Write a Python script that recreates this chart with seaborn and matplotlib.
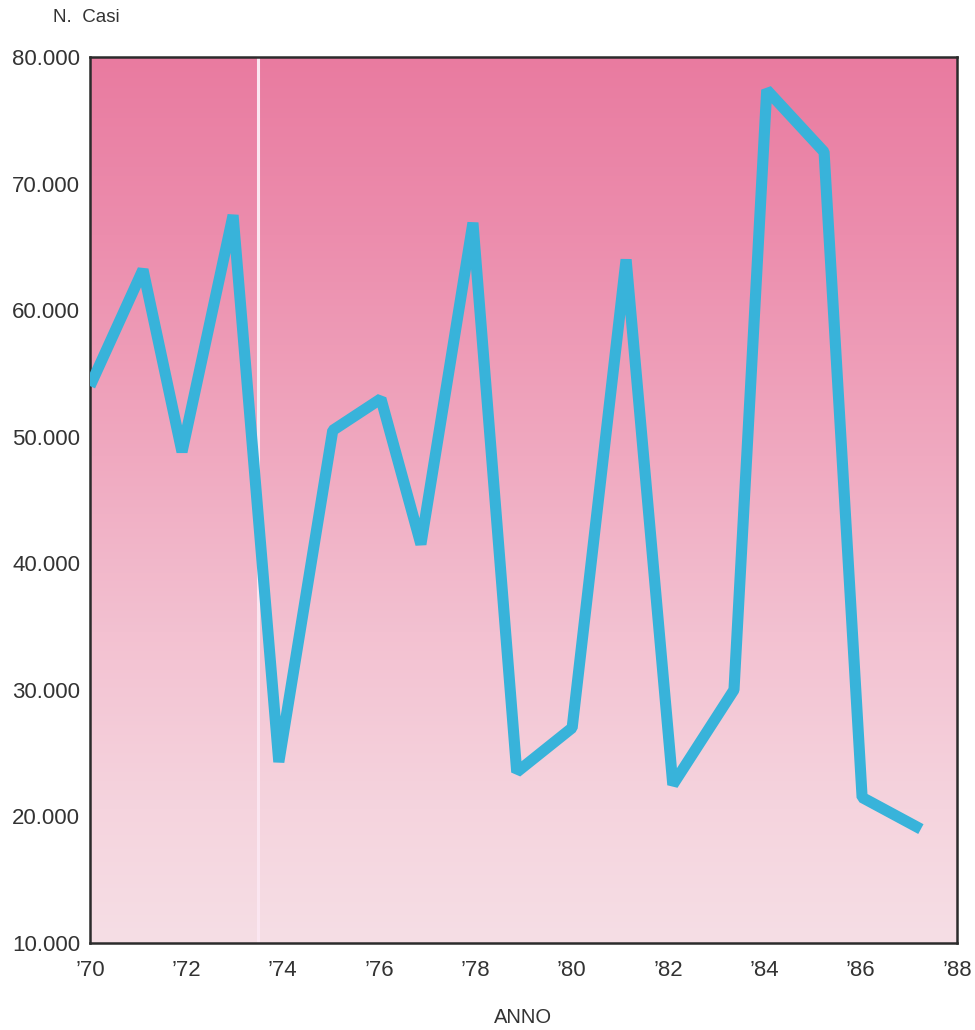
import numpy as np
import pandas as pd
import matplotlib
matplotlib.use("Agg")
import matplotlib.pyplot as plt
import seaborn as sns
from matplotlib.colors import LinearSegmentedColormap

# Anno (posizione sull'asse) e numero di casi
anno = [1970.0, 1971.1, 1971.91, 1972.97, 1973.92, 1975.04, 1976.04, 1976.87,
        1977.95, 1978.86, 1980.01, 1981.13, 1982.1, 1983.37, 1984.05, 1985.24,
        1986.03, 1987.25]
casi = [54000, 63200, 48800, 67500, 24300, 50500, 53000, 41500,
        66900, 23500, 27000, 64000, 22500, 30000, 77400, 72500,
        21500, 19000]

xticks = [1970, 1972, 1974, 1976, 1978, 1980, 1982, 1984, 1986, 1988]
xticklabels = ["’70", "’72", "’74", "’76", "’78", "’80", "’82", "’84", "’86", "’88"]
yticks = [10000, 20000, 30000, 40000, 50000, 60000, 70000, 80000]
yticklabels = ["10.000", "20.000", "30.000", "40.000", "50.000", "60.000", "70.000", "80.000"]
separatore = 1973.49

sns.set_theme(style="white")
plt.rcParams["font.family"] = ["Liberation Sans", "DejaVu Sans"]

df = pd.DataFrame({"anno": anno, "casi": casi})

fig = plt.figure(figsize=(9.75, 10.3), dpi=100)
ax = fig.add_axes([90 / 975, 1 - 943 / 1030, 867 / 975, 886 / 1030])

# sfondo sfumato dal rosa intenso in alto al rosa pallido in basso
cmap = LinearSegmentedColormap.from_list(
    "rosa",
    [(0.0, "#F6DEE5"), (0.15, "#F5D4DE"), (0.35, "#F3C1D1"),
     (0.55, "#F0A9C0"), (0.8, "#EC8DAD"), (1.0, "#E97BA0")],
)
grad = np.linspace(0, 1, 512).reshape(-1, 1)
ax.imshow(grad, extent=[1970, 1988, 10000, 80000], origin="lower",
          aspect="auto", cmap=cmap, zorder=0, interpolation="bicubic")

ax.axvline(separatore, color="#FBE6F1", lw=2.2, zorder=1)

sns.lineplot(data=df, x="anno", y="casi", sort=False, estimator=None, ax=ax,
             color="#38B3DA", lw=8.0, zorder=3)
ax.lines[-1].set_solid_joinstyle("bevel")
ax.lines[-1].set_solid_capstyle("butt")

ax.set_xlim(1970, 1988)
ax.set_ylim(10000, 80000)
ax.set_xticks(xticks)
ax.set_xticklabels(xticklabels)
ax.set_yticks(yticks)
ax.set_yticklabels(yticklabels)

for s in ax.spines.values():
    s.set_visible(True)
    s.set_color("#2b2b2b")
    s.set_linewidth(1.8)

ax.tick_params(axis="both", direction="out", colors="#2b2b2b", labelcolor="#333333",
               labelsize=16, width=1.8)
ax.tick_params(axis="y", length=6, pad=1)
ax.tick_params(axis="x", length=7, pad=5)

ax.set_xlabel("ANNO", fontsize=14.5, color="#333333", labelpad=20)
ax.set_ylabel("")
fig.text(53 / 975, 1 - 18 / 1030, "N.  Casi", fontsize=13.5, color="#333333",
         ha="left", va="center")

fig.savefig("out.png", dpi=100, facecolor="white")
